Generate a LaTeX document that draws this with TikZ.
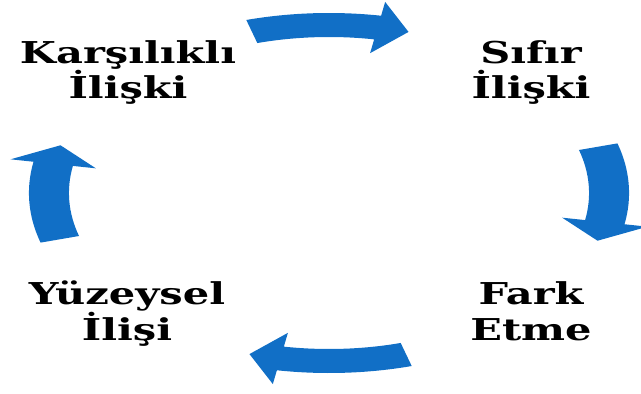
\documentclass[tikz,border=0pt]{standalone}
\usepackage{fontspec}
\usepackage{tikz}
\usetikzlibrary{positioning}
\newfontfamily\cyclefont[FakeStretch=1.38]{DejaVu Serif}
\definecolor{cycleblue}{RGB}{17,111,198}

\begin{document}
\begin{tikzpicture}[x=0.03cm,y=-0.03cm,
  lbl/.style={font=\cyclefont\bfseries\fontsize{25.7}{30.2}\selectfont,
              align=center,inner sep=0pt,anchor=base}]

  \def\rin{156}
  \def\rout{180}
  \useasboundingbox (0,0) rectangle (641,394);

  % ---------- ring of arrows ----------
  \begin{scope}[shift={(329,193)},xscale=1.667,yscale=-1]
    \foreach \k in {0,1,2,3} {
      \fill[cycleblue,rotate=-90*\k]
        (106:\rout) arc[start angle=106,end angle=80,radius=\rout]
        -- (80:194) -- (73.5:168) -- (80:142) -- (80:\rin)
        arc[start angle=80,end angle=106,radius=\rin] -- cycle;
    }
  \end{scope}

  % ---------- labels (base = last line) ----------
  \node[lbl] (kars)  at (128,99)  {Karşılıklı\\İlişki};
  \node[lbl] (sifir) at (531,99)  {Sıfır\\İlişki};
  \node[lbl] (fark)  at (531,340) {Fark\\Etme};
  \node[lbl] (yuzey) at (127,340) {Yüzeysel\\İlişi};

\end{tikzpicture}
\end{document}
